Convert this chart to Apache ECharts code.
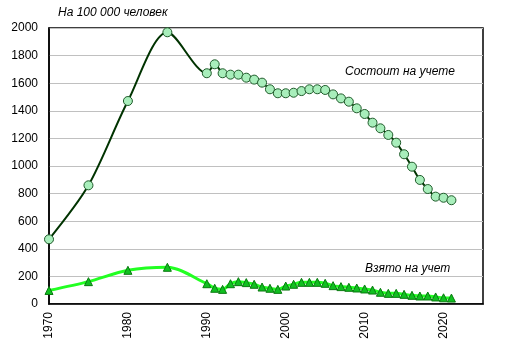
<!DOCTYPE html>
<html>
<head>
<meta charset="utf-8">
<script src="https://cdn.jsdelivr.net/npm/echarts@6/dist/echarts.min.js"></script>
<style>html,body{margin:0;padding:0;background:#fff}#c{width:511px;height:356px}</style>
</head>
<body>
<div id="c"></div>
<script>
const years = [1970,1975,1980,1985,1990,1991,1992,1993,1994,1995,1996,1997,1998,1999,2000,2001,2002,2003,2004,2005,2006,2007,2008,2009,2010,2011,2012,2013,2014,2015,2016,2017,2018,2019,2020,2021];
const registered = [469,860,1471,1969,1672,1737,1672,1662,1662,1640,1626,1604,1556,1527,1527,1531,1543,1556,1556,1551,1519,1490,1466,1418,1377,1314,1273,1225,1169,1085,995,899,833,778,770,752];
const newCases = [98,162,244,266,147,114,106,147,162,155,143,123,114,106,130,143,157,157,157,150,133,126,121,116,109,101,85,77,77,70,63,58,58,51,45,43];
const yTicks = [0,200,400,600,800,1000,1200,1400,1600,1800,2000];
const xTicks = [1970,1980,1990,2000,2010,2020];
const labelUnit = 'На 100 000 человек';
const labelReg = 'Состоит на учете';
const labelNew = 'Взято на учет';

const chart = echarts.init(document.getElementById('c'));
const font = 'Arial, "Liberation Sans", sans-serif';
chart.setOption({
  animation: false,
  textStyle: {fontFamily: font},
  grid: {left: 49, right: 28, top: 28, bottom: 52, show: true, borderColor: '#000', borderWidth: 1.5},
  xAxis: {
    type: 'value', min: 1970, max: 2025, interval: 10,
    axisLine: {show: true, lineStyle: {color: '#000', width: 1.5}},
    axisTick: {show: false},
    splitLine: {show: false},
    axisLabel: {rotate: 90, color: '#000', fontSize: 12, fontFamily: font, margin: 8,
      formatter: v => xTicks.includes(v) ? String(v) : ''}
  },
  yAxis: {
    type: 'value', min: yTicks[0], max: yTicks[yTicks.length-1], interval: 200,
    axisLine: {show: true, lineStyle: {color: '#000', width: 1.5}},
    axisTick: {show: false},
    splitLine: {show: true, lineStyle: {color: '#c0c0c0', width: 1}},
    axisLabel: {color: '#000', fontSize: 12, fontFamily: font, margin: 11,
      formatter: v => yTicks.includes(v) ? String(v) : ''}
  },
  series: [
    {
      type: 'line', name: labelReg,
      data: years.map((y,i)=>[y, registered[i]]),
      smooth: 0.3,
      symbol: 'circle', symbolSize: 9,
      lineStyle: {color: '#003300', width: 2},
      itemStyle: {color: '#a8eebb', borderColor: '#1f5a2a', borderWidth: 1},
      z: 3
    },
    {
      type: 'line', name: labelNew,
      data: years.map((y,i)=>[y, newCases[i]]),
      smooth: 0.3,
      symbol: 'triangle', symbolSize: 8,
      lineStyle: {color: '#22ff22', width: 3},
      itemStyle: {color: '#10c020', borderColor: '#0a7a10', borderWidth: 1},
      z: 2
    }
  ],
  graphic: [
    {type: 'text', left: 58, top: 7, style: {text: labelUnit, font: 'italic 12px ' + font, fill: '#000'}},
    {type: 'text', left: 345, top: 66, style: {text: labelReg, font: 'italic 12px ' + font, fill: '#000'}},
    {type: 'text', left: 365, top: 263, style: {text: labelNew, font: 'italic 12px ' + font, fill: '#000'}}
  ]
});
</script>
</body>
</html>
